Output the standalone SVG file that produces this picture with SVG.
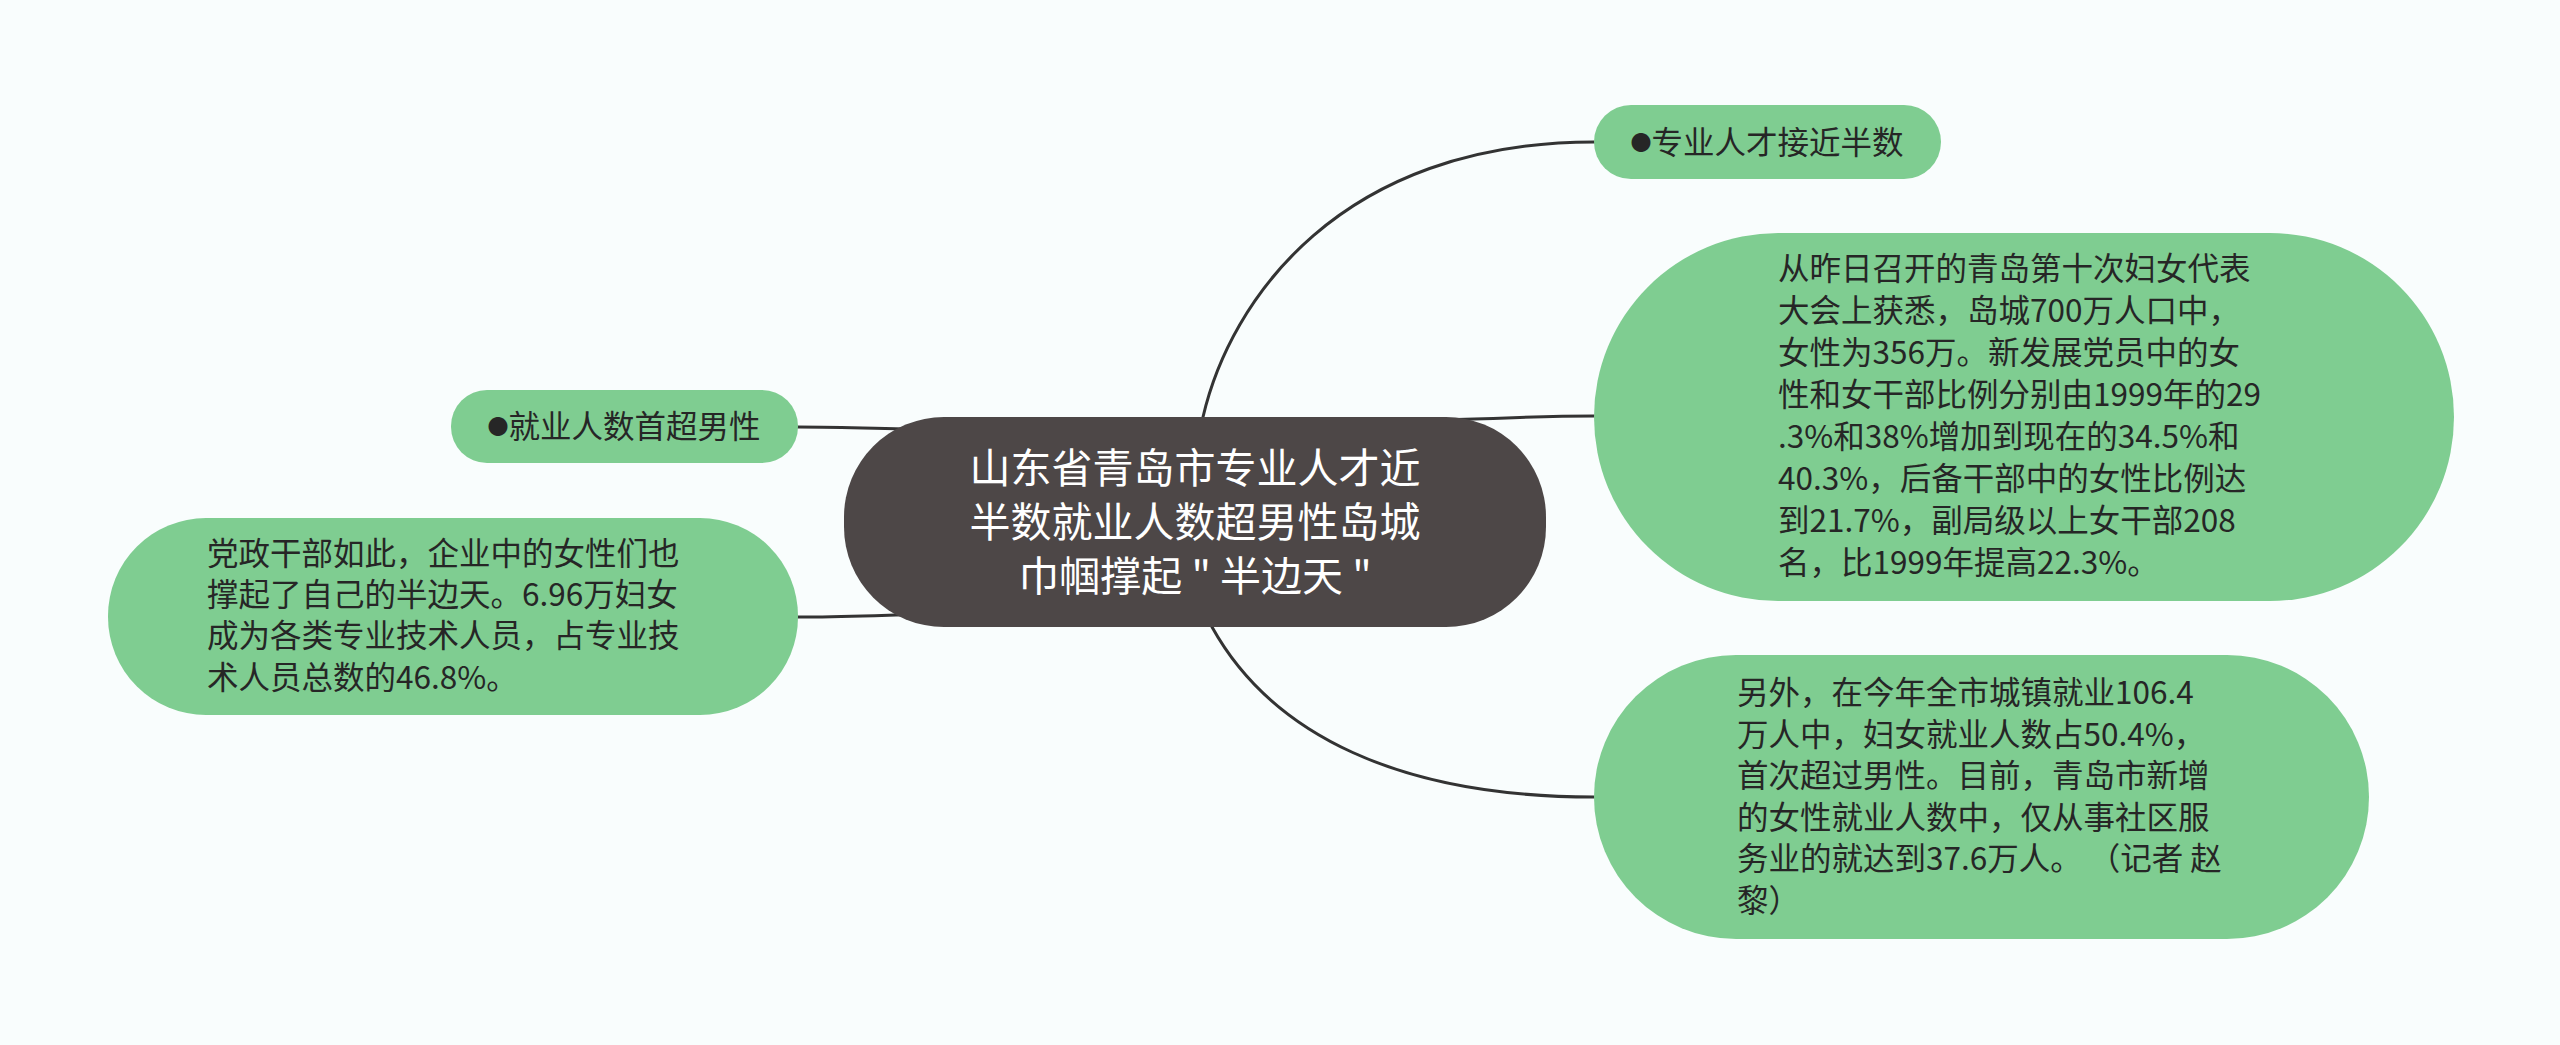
<svg xmlns="http://www.w3.org/2000/svg" width="2560" height="1045" viewBox="0 0 2560 1045">
<style>
.bg{fill:#f9fdfd}
.link{fill:none;stroke:#333333;stroke-width:3;stroke-linecap:round}
.leaf{fill:#7fcd91}
.root{fill:#4d4747}
.t{font-family:"Noto Sans CJK SC","Noto Sans",sans-serif;font-size:31.5px;fill:#262626}
.rt{font-family:"Noto Sans CJK SC","Noto Sans",sans-serif;font-size:41px;fill:#ffffff;text-anchor:middle}
.mid{text-anchor:middle}
.dot{font-size:21px}
</style>
<rect class="bg" x="0" y="0" width="2560" height="1045"/>
<g id="connectors">
<path class="link" d="M1203,417 C1230,300 1340,142 1594,142"/>
<path class="link" d="M1440,420 C1520,418 1540,416 1594,416"/>
<path class="link" d="M1212,627 C1272,735 1400,797 1594,797"/>
<path class="link" d="M798,427 C850,427 880,429 950,430"/>
<path class="link" d="M798,617 C850,617 880,615 950,614"/>
</g>
<g id="root">
<rect class="root" x="844" y="417" width="702" height="210" rx="100" ry="100"/>
<text class="rt" x="1195" y="483">山东省青岛市专业人才近</text>
<text class="rt" x="1195" y="537">半数就业人数超男性岛城</text>
<text class="rt" x="1195" y="591">巾帼撑起 " 半边天 "</text>
</g>
<g id="node-zhuanye">
<rect class="leaf" x="1594" y="105" width="347" height="74" rx="37" ry="37"/>
<text class="t mid" x="1767" y="154"><tspan class="dot" dy="-4">●</tspan><tspan dy="4">专业人才接近半数</tspan></text>
</g>
<g id="node-detail1">
<rect class="leaf" x="1594" y="233" width="860" height="368" rx="184" ry="184"/>
<text class="t"><tspan x="1778" y="280">从昨日召开的青岛第十次妇女代表</tspan><tspan x="1778" y="322">大会上获悉，岛城700万人口中，</tspan><tspan x="1778" y="364">女性为356万。新发展党员中的女</tspan><tspan x="1778" y="406">性和女干部比例分别由1999年的29</tspan><tspan x="1778" y="448">.3%和38%增加到现在的34.5%和</tspan><tspan x="1778" y="490">40.3%，后备干部中的女性比例达</tspan><tspan x="1778" y="532">到21.7%，副局级以上女干部208</tspan><tspan x="1778" y="574">名，比1999年提高22.3%。</tspan></text>
</g>
<g id="node-detail2">
<rect class="leaf" x="1594" y="655" width="775" height="284" rx="142" ry="142"/>
<text class="t"><tspan x="1737" y="704">另外，在今年全市城镇就业106.4</tspan><tspan x="1737" y="746">万人中，妇女就业人数占50.4%，</tspan><tspan x="1737" y="787">首次超过男性。目前，青岛市新增</tspan><tspan x="1737" y="829">的女性就业人数中，仅从事社区服</tspan><tspan x="1737" y="870">务业的就达到37.6万人。 （记者 赵</tspan><tspan x="1737" y="912">黎）</tspan></text>
</g>
<g id="node-jiuye">
<rect class="leaf" x="451" y="390" width="347" height="73" rx="36" ry="36"/>
<text class="t mid" x="624" y="438"><tspan class="dot" dy="-4">●</tspan><tspan dy="4">就业人数首超男性</tspan></text>
</g>
<g id="node-detail3">
<rect class="leaf" x="108" y="518" width="690" height="197" rx="98" ry="98"/>
<text class="t"><tspan x="207" y="565">党政干部如此，企业中的女性们也</tspan><tspan x="207" y="606">撑起了自己的半边天。6.96万妇女</tspan><tspan x="207" y="647">成为各类专业技术人员，占专业技</tspan><tspan x="207" y="689">术人员总数的46.8%。</tspan></text>
</g>
</svg>
